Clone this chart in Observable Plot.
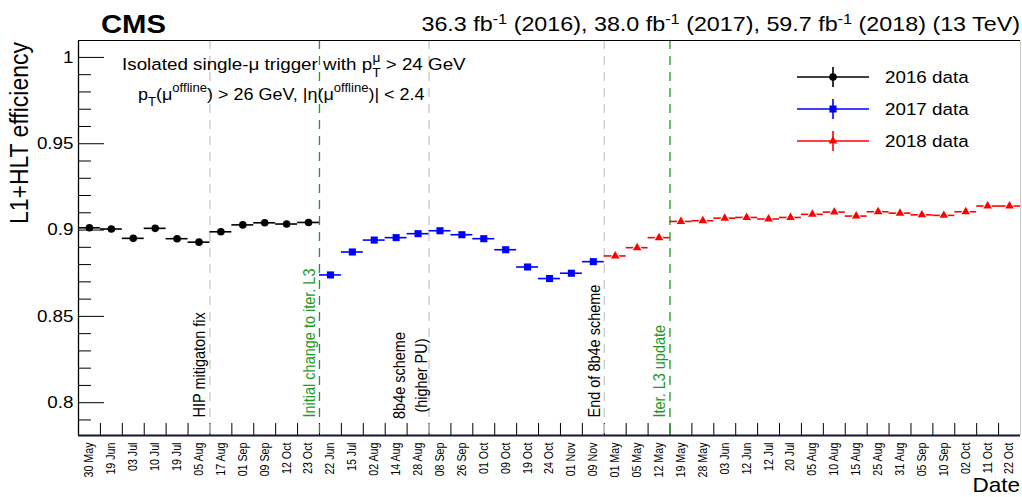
<!DOCTYPE html>
<html><head><meta charset="utf-8">
<script src="https://cdn.jsdelivr.net/npm/d3@7"></script>
<script src="https://cdn.jsdelivr.net/npm/@observablehq/plot@0.6"></script>
<style>body{margin:0;background:#fff;} svg{display:block}</style>
</head><body><div id="chart"></div>
<script>
// ---------- data ----------
const dates2016 = ["30 May","19 Jun","03 Jul","10 Jul","19 Jul","05 Aug","17 Aug","01 Sep","09 Sep","12 Oct","23 Oct"];
const eff2016   = [0.9013,0.9006,0.8952,0.9010,0.8950,0.8930,0.8990,0.9030,0.9042,0.9035,0.9044];
const dates2017 = ["22 Jun","15 Jul","02 Aug","14 Aug","28 Aug","08 Sep","26 Sep","01 Oct","09 Oct","19 Oct","24 Oct","01 Nov","09 Nov"];
const eff2017   = [0.8740,0.8873,0.8942,0.8956,0.8979,0.8996,0.8973,0.8950,0.8886,0.8786,0.8719,0.8750,0.8817];
const dates2018 = ["01 May","05 May","12 May","19 May","28 May","03 Jun","12 Jun","12 Jul","20 Jul","05 Aug","10 Aug","15 Aug","25 Aug","31 Aug","05 Sep","10 Sep","02 Oct","11 Oct","22 Oct"];
const eff2018   = [0.8850,0.8898,0.8956,0.9050,0.9054,0.9069,0.9073,0.9064,0.9073,0.9091,0.9104,0.9081,0.9106,0.9098,0.9088,0.9085,0.9106,0.9139,0.9139];
const years = ["2016","2017","2018"];
const legendLabels = ["2016 data","2017 data","2018 data"];
const yTicks = [0.8,0.85,0.9,0.95,1];
const yMinorTicks = [0.79,0.81,0.82,0.83,0.84,0.86,0.87,0.88,0.89,0.91,0.92,0.93,0.94,0.96,0.97,0.98,0.99];
const eventYears = ["2016","2016","2017","2017","2018"];
const eventAfterDates = ["05 Aug","23 Oct","28 Aug","09 Nov","12 May"];
const eventLabels = ["HIP mitigaton fix","Initial change to iter. L3","8b4e scheme\n(higher PU)","End of 8b4e scheme","Iter. L3 update"];
const eventKinds = ["beam","trigger","beam","beam","trigger"];

// ---------- styles ----------
const yearColor = {"2016":"#000000","2017":"#0000ff","2018":"#ff0000"};
const yearSymbol = {"2016":"circle","2017":"square","2018":"triangle"};
const yearR = {"2016":3.8,"2017":4,"2018":3.2};
const yearHalo = {"2016":0,"2017":0,"2018":2};
const lineColor = {beam:"#c8c8c8", trigger:"#1e9b1e"};
const textColor = {beam:"#000000", trigger:"#1e9b1e"};
const FONT = "'Liberation Sans', Arial, Helvetica, sans-serif";

// ---------- tables ----------
const series = [{year:"2016",dates:dates2016,eff:eff2016},{year:"2017",dates:dates2017,eff:eff2017},{year:"2018",dates:dates2018,eff:eff2018}];
const rows = [];
series.forEach(s => s.dates.forEach((d,k) => rows.push({i: rows.length, year: s.year, date: d, eff: s.eff[k]})));
const nBins = rows.length;
const edges = d3.range(0, nBins + 1);
const events = eventAfterDates.map((d,k) => ({
  pos: rows.findIndex(r => r.year === eventYears[k] && r.date === d) + 1,
  label: eventLabels[k], kind: eventKinds[k]
}));

const W = 1022, H = 497, ML = 78, MR = 2, MT = 40, MB = 62;
const frameW = W - ML - MR, frameH = H - MT - MB;
const yDomain = [0.781, 1.0098];

const dotMarks = years.map(y => Plot.dot(rows.filter(r => r.year === y), {
  x: d => d.i + 0.5, y: "eff", symbol: yearSymbol[y], r: yearR[y], fill: yearColor[y],
  stroke: yearHalo[y] ? "white" : "none", strokeWidth: yearHalo[y], paintOrder: "stroke"
}));

const svgEl = Plot.plot({
  width: W, height: H, marginLeft: ML, marginRight: MR, marginTop: MT, marginBottom: MB,
  style: {fontFamily: FONT, background: "white", overflow: "visible", color: "black"},
  x: {domain: [0, nBins]},
  y: {domain: yDomain},
  color: {type: "identity"},
  marks: [
    Plot.ruleY(yMinorTicks, {y: d => d, insetRight: frameW - 13, stroke: "black"}),
    Plot.ruleY(yTicks, {y: d => d, insetRight: frameW - 26, stroke: "black"}),
    Plot.ruleX(edges, {x: d => d, insetTop: frameH - 12, stroke: "black"}),
    Plot.ruleX(events, {x: "pos", stroke: d => lineColor[d.kind], strokeDasharray: "9,7", strokeWidth: 1.3}),
    Plot.text(events.filter(e => !e.label.includes("\n")), {
      x: "pos", text: "label", frameAnchor: "bottom", dy: -18, dx: -10, rotate: -90,
      textAnchor: "start", lineAnchor: "middle", fill: d => textColor[d.kind], fontSize: 14.5
    }),
    Plot.text(events.filter(e => e.label.includes("\n")), {
      x: "pos", text: "label", frameAnchor: "bottom", dy: -60, dx: -20, rotate: -90,
      textAnchor: "middle", lineAnchor: "middle", lineHeight: 1.35, fill: d => textColor[d.kind], fontSize: 14.5
    }),
    Plot.ruleY(rows, {x1: d => d.i, x2: d => d.i + 1, y: "eff", stroke: d => yearColor[d.year], strokeWidth: 1.6}),
    ...dotMarks,
    Plot.ruleY([yDomain[1]], {stroke: "black", strokeWidth: 1}),
    Plot.ruleX([0], {stroke: "black", strokeWidth: 1.3}),
    Plot.ruleX([nBins], {stroke: "#c8c8c8", strokeWidth: 1}),
    Plot.ruleY([yDomain[0]], {stroke: "#141438", strokeWidth: 2}),
    Plot.axisY({ticks: yTicks, tickSize: 0, tickPadding: 5, fontSize: 16.5, label: null, tickFormat: d => String(d)}),
    Plot.axisX({ticks: rows.map(r => r.i + 0.5), tickFormat: v => rows[Math.floor(v)].date, tickRotate: -90,
      tickSize: 0, tickPadding: 7, fontSize: 10.7, label: null})
  ]
});
document.getElementById("chart").appendChild(svgEl);
const svg = d3.select(svgEl);

// widen glyphs like the reference rendering
const addT = (sel, s) => sel.attr("transform", function(){ return (this.getAttribute("transform") || "") + " " + s; });
addT(svg.selectAll('g[aria-label="y-axis tick label"] text'), "scale(1.14,1)");
addT(svg.selectAll('g[aria-label="x-axis tick label"] text'), "scale(1,1.15)");
addT(svg.selectAll('g[aria-label="text"] text'), "scale(1,1.15)");

function addText(x, y, parts, {size, anchor = "start", weight = "normal", sx = 1.15, rot = null, fill = "black"}) {
  const tr = rot === null ? `translate(${x},${y}) scale(${sx},1)` : `translate(${x},${y}) rotate(${rot}) scale(1,${sx})`;
  const t = svg.append("text").attr("transform", tr).attr("font-size", size).attr("text-anchor", anchor)
    .attr("font-weight", weight).attr("fill", fill).attr("font-family", FONT);
  parts.forEach(p => {
    const ts = t.append("tspan").text(p.t).attr("font-size", p.s || size);
    if (p.dy) ts.attr("dy", p.dy);
    if (p.dx) ts.attr("dx", p.dx);
  });
  return t;
}

addText(101, 33, [{t: "CMS"}], {size: 25, weight: "bold", sx: 1.17});
addText(1020, 31, [
  {t: "36.3 fb"}, {t: "-1", s: 14, dy: -7}, {t: " (2016), 38.0 fb", dy: 7},
  {t: "-1", s: 14, dy: -7}, {t: " (2017), 59.7 fb", dy: 7},
  {t: "-1", s: 14, dy: -7}, {t: " (2018) (13 TeV)", dy: 7}
], {size: 20, anchor: "end", sx: 1.165});
addText(122, 70, [
  {t: "Isolated single-\u03bc trigger with p"}, {t: "T", s: 12, dy: 7}, {t: "\u03bc", s: 12, dx: -7, dy: -15},
  {t: " > 24 GeV", dy: 8}
], {size: 16.5, sx: 1.14});
addText(138, 100, [
  {t: "p"}, {t: "T", s: 12, dy: 6}, {t: "(\u03bc", dy: -6}, {t: "offline", s: 12, dy: -8},
  {t: ") > 26 GeV, |\u03b7(\u03bc", dy: 8}, {t: "offline", s: 12, dy: -8}, {t: ")| < 2.4", dy: 8}
], {size: 16.5, sx: 1.09});
addText(28, 42, [{t: "L1+HLT efficiency"}], {size: 23, anchor: "end", rot: -90, sx: 1.15});
addText(1020, 492, [{t: "Date"}], {size: 20.5, anchor: "end", sx: 1.1});

// legend
const legY = [77, 109, 141];
years.forEach((y, k) => {
  const g = svg.append("g");
  const c = yearColor[y];
  g.append("line").attr("x1", 797).attr("x2", 869).attr("y1", legY[k]).attr("y2", legY[k]).attr("stroke", c).attr("stroke-width", 1.6);
  g.append("line").attr("x1", 833).attr("x2", 833).attr("y1", legY[k] - 10).attr("y2", legY[k] + 10).attr("stroke", c).attr("stroke-width", 1.6);
  const sym = {circle: d3.symbolCircle, square: d3.symbolSquare, triangle: d3.symbolTriangle}[yearSymbol[y]];
  g.append("path").attr("transform", `translate(833,${legY[k]})`)
    .attr("d", d3.symbol(sym, Math.PI * yearR[y] * yearR[y])()).attr("fill", c);
  addText(885, legY[k] + 6, [{t: legendLabels[k]}], {size: 16.5, sx: 1.14});
});
</script>
</body></html>
